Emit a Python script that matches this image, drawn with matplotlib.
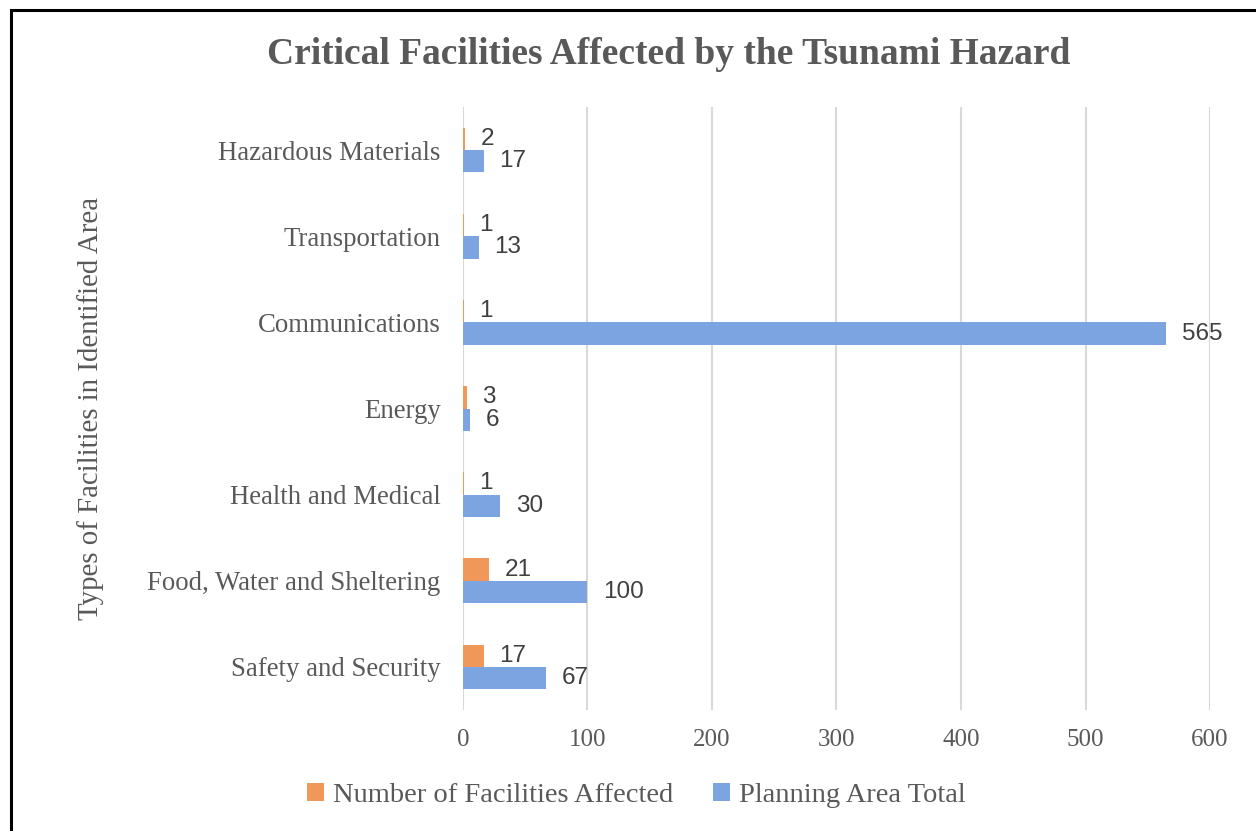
import matplotlib.pyplot as plt
from matplotlib.patches import Rectangle
import numpy as np

categories = [
    'Safety and Security', 'Food, Water and Sheltering', 'Health and Medical',
    'Energy', 'Communications', 'Transportation', 'Hazardous Materials',
]
affected = [17, 21, 1, 3, 1, 1, 2]
total = [67, 100, 30, 6, 565, 13, 17]
xticks = [0, 100, 200, 300, 400, 500, 600]

orange = '#F0975A'
blue = '#7BA4E0'
grey_text = '#595959'
label_text = '#404040'
serif = ['Liberation Serif', 'DejaVu Serif']
sans = ['Liberation Sans', 'DejaVu Sans']

fig = plt.figure(figsize=(12.56, 8.31), dpi=100)
ax = fig.add_axes([0.3686, 0.1456, 0.5948, 0.7256])

y = np.arange(len(categories))
h = 0.26
bars_a = ax.barh(y + h / 2, affected, height=h, color=orange,
                 label='Number of Facilities Affected')
bars_t = ax.barh(y - h / 2, total, height=h, color=blue,
                 label='Planning Area Total')

for bars, vals in [(bars_a, affected), (bars_t, total)]:
    for b, v in zip(bars, vals):
        ax.annotate(str(v), (v, b.get_y() + b.get_height() / 2),
                    xytext=(11, 0), textcoords='offset points',
                    ha='left', va='center', fontsize=17.5,
                    color=label_text, family=sans)

ax.set_xlim(0, 600)
ax.set_ylim(-0.5, len(categories) - 0.5)
ax.set_xticks(xticks)
ax.set_yticks(y)
ax.set_yticklabels(categories)
ax.tick_params(axis='x', length=0, labelsize=18, colors=grey_text, pad=14)
ax.tick_params(axis='y', length=0, labelsize=19.3, colors=grey_text, pad=16)
for lab in ax.get_xticklabels() + ax.get_yticklabels():
    lab.set_family(serif)
ax.grid(axis='x', color='#D9D9D9', linewidth=1.5)
ax.set_axisbelow(True)
for s in ax.spines.values():
    s.set_visible(False)

ax.set_ylabel('Types of Facilities in Identified Area', fontsize=20.8,
              color=grey_text, family=serif)
ax.yaxis.set_label_coords(-0.48, 0.5)

fig.text(0.532, 0.935, 'Critical Facilities Affected by the Tsunami Hazard',
         ha='center', va='center', fontsize=27, fontweight='bold',
         color=grey_text, family=serif)

handles, labels = ax.get_legend_handles_labels()
fig.legend(handles, labels, loc='center', bbox_to_anchor=(0.5065, 0.043),
           ncol=2, frameon=False, handlelength=0.6, handleheight=0.6,
           handletextpad=0.3, columnspacing=1.41,
           prop={'family': serif, 'size': 20.5}, labelcolor=grey_text)

fig.patches.append(Rectangle((11 / 1256, -0.1), 1.2, 1.1 - 10 / 831,
                             transform=fig.transFigure, fill=False,
                             edgecolor='black', linewidth=2.2))

plt.savefig('out.png', dpi=100)
